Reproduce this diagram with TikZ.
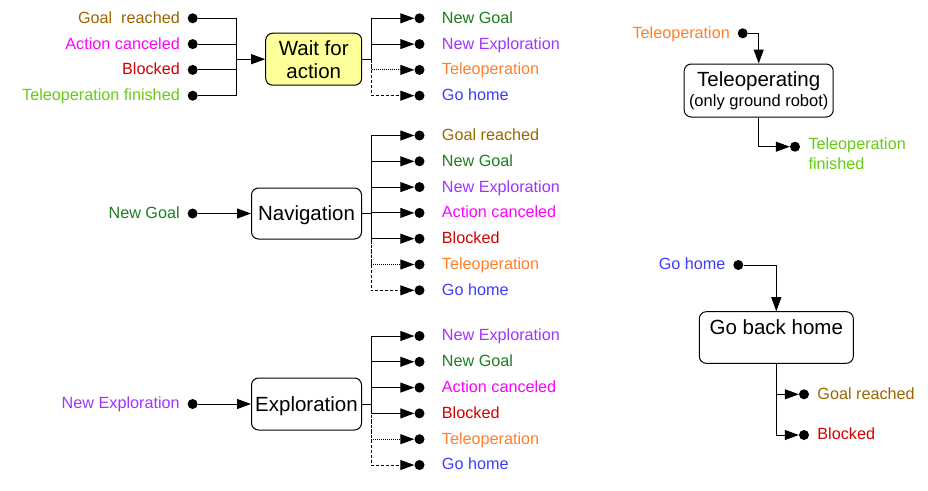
\documentclass[tikz,border=0pt]{standalone}
\usepackage{fontspec}
\setmainfont{Liberation Sans}
\usetikzlibrary{arrows.meta,positioning}

\definecolor{goalc}{HTML}{996600}
\definecolor{newgoalc}{HTML}{1E7D1E}
\definecolor{explc}{HTML}{A033FF}
\definecolor{cancelc}{HTML}{FF00FF}
\definecolor{blockc}{HTML}{D40000}
\definecolor{teleopc}{HTML}{FF7F2A}
\definecolor{homec}{HTML}{3C3CFF}
\definecolor{finc}{HTML}{66CC11}
\definecolor{waitc}{HTML}{FFFF99}

\tikzset{
  state/.style={draw, rounded corners=7pt, line width=1pt, align=center,
    inner sep=0pt, font=\fontsize{20.5}{23}\selectfont},
  oneline/.style={text height=18.7pt, text depth=4.3pt},
  lbl/.style={inner sep=0pt, text height=13pt, text depth=3.2pt,
    font=\fontsize{16.2}{20}\selectfont},
  pin/.style={circle, fill, inner sep=0pt, minimum size=10pt},
  wire/.style={line width=1pt},
  arr/.style={wire, -{Triangle[length=14pt,width=10pt]}},
  tele/.style={densely dotted},
  home/.style={dash pattern=on 3pt off 2pt},
}

\begin{document}
\begin{tikzpicture}[x=1pt,y=-1pt]
  \useasboundingbox (0,0) rectangle (928,490);

  % wait for action
  \node[state, fill=waitc, minimum width=96pt, minimum height=52pt] (wait) at (313.7,59.2) {Wait for\\action};
  \coordinate (wl) at (236.7,59.2);
  \coordinate (wr) at (371,59.2);
  \foreach \txt/\col [count=\i from 0] in {Goal\ \ reached/goalc, Action canceled/cancelc, Blocked/blockc, Teleoperation finished/finc} {
    \node[pin] (win\i) at (192.7,18.3+25.8*\i) {};
    \node[lbl, text=\col, left=7.5pt of win\i] (wint\i) {\txt};
    \draw[wire] (win\i) -| (wl);
  }
  \draw[arr] (wl) -- (wait);
  \foreach \r/\txt/\col/\ls in {3/Go home/homec/home, 2/Teleoperation/teleopc/tele, 1/New Exploration/explc/solid, 0/New Goal/newgoalc/solid} {
    \node[pin] (wout\r) at (419.5,18.3+25.8*\r) {};
    \node[lbl, text=\col, right=17pt of wout\r] (woutt\r) {\txt};
    \draw[arr, \ls] (wait.east) -- (wr) |- (wout\r);
  }

  % navigation
  \node[state, oneline, minimum width=110pt, minimum height=51pt] (nav) at (306.5,213.5) {Navigation};
  \node[pin] (navin) at (192.6,213.5) {};
  \node[lbl, text=newgoalc, left=7.5pt of navin] (navint) {New Goal};
  \draw[arr] (navin) -- (nav);
  \coordinate (nr) at (371,213.5);
  \foreach \r/\txt/\col/\ls in {6/Go home/homec/home, 5/Teleoperation/teleopc/tele, 4/Blocked/blockc/solid, 3/Action canceled/cancelc/solid, 2/New Exploration/explc/solid, 1/New Goal/newgoalc/solid, 0/Goal reached/goalc/solid} {
    \node[pin] (navout\r) at (419.5,135.5+25.8*\r) {};
    \node[lbl, text=\col, right=17pt of navout\r] (navoutt\r) {\txt};
    \draw[arr, \ls] (nav.east) -- (nr) |- (navout\r);
  }

  % exploration
  \node[state, oneline, minimum width=110pt, minimum height=52pt] (expl) at (306.5,404) {Exploration};
  \node[pin] (explin) at (192.6,404) {};
  \node[lbl, text=explc, left=7.5pt of explin] (explint) {New Exploration};
  \draw[arr] (explin) -- (expl);
  \coordinate (er) at (371,404);
  \foreach \r/\txt/\col/\ls in {5/Go home/homec/home, 4/Teleoperation/teleopc/tele, 3/Blocked/blockc/solid, 2/Action canceled/cancelc/solid, 1/New Goal/newgoalc/solid, 0/New Exploration/explc/solid} {
    \node[pin] (explout\r) at (419.5,336+25.8*\r) {};
    \node[lbl, text=\col, right=17pt of explout\r] (exploutt\r) {\txt};
    \draw[arr, \ls] (expl.east) -- (er) |- (explout\r);
  }

  % teleoperating
  \node[state, minimum width=149pt, minimum height=53pt] (teleop) at (758.7,90.5) {Teleoperating\\[-3pt]{\fontsize{16.5}{18}\selectfont(only ground robot)}};
  \node[pin] (telin) at (742.7,33.3) {};
  \node[lbl, text=teleopc, left=7.5pt of telin] (telint) {Teleoperation};
  \draw[arr] (telin) -| (teleop.north);
  \node[pin] (telout) at (795,146.7) {};
  \draw[arr] (teleop.south) |- (telout);
  \node[inner sep=0pt, align=left, anchor=north west, text=finc, font=\fontsize{16.2}{20}\selectfont] (teloutt) at (808.3,137.3) {Teleoperation\\finished};

  % go back home
  \node[state, minimum width=154pt, text height=22.8pt, text depth=28.8pt] (gohome) at (776.3,337.5) {Go back home};
  \node[pin] (homein) at (738.3,265) {};
  \node[lbl, text=homec, left=7.5pt of homein] (homeint) {Go home};
  \draw[arr] (homein) -| (gohome.north);
  \foreach \r/\txt/\col in {0/Goal reached/goalc, 1/Blocked/blockc} {
    \node[pin] (homeout\r) at (804,394.3+40.7*\r) {};
    \draw[arr] (gohome.south) |- (homeout\r);
    \node[lbl, text=\col, right=8pt of homeout\r] (homeoutt\r) {\txt};
  }
\end{tikzpicture}
\end{document}
